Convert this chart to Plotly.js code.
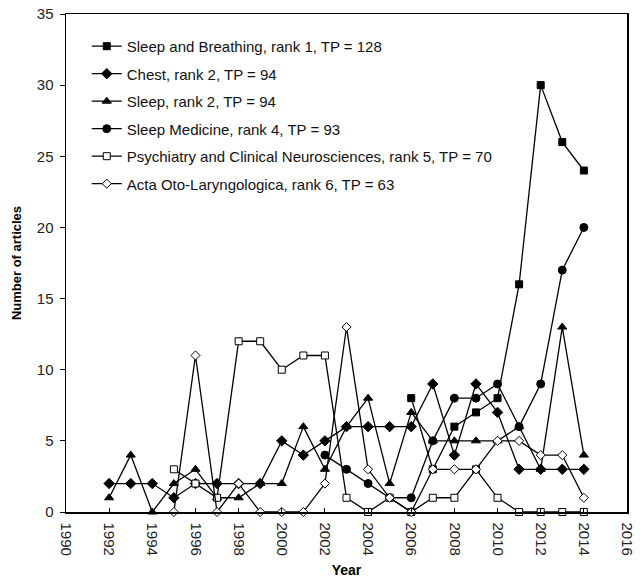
<!DOCTYPE html>
<html>
<head>
<meta charset="utf-8">
<script src="https://cdn.plot.ly/plotly-3.0.1.min.js"></script>
<style>html,body{margin:0;padding:0;background:#fff;}#chart{width:640px;height:580px;}</style>
</head>
<body>
<div id="chart"></div>
<script>
const years = [1992,1993,1994,1995,1996,1997,1998,1999,2000,2001,2002,2003,2004,2005,2006,2007,2008,2009,2010,2011,2012,2013,2014];
const sleepBreathing = [null,null,null,null,null,null,null,null,null,null,null,null,null,null,8,3,6,7,8,16,30,26,24];
const chest = [2,2,2,1,2,2,2,2,5,4,5,6,6,6,6,9,4,9,7,3,3,3,3];
const sleep = [1,4,0,2,3,1,1,2,2,6,3,6,8,2,7,5,5,5,5,6,3,13,4];
const sleepMedicine = [null,null,null,null,null,null,null,null,null,null,4,3,2,1,1,5,8,8,9,6,9,17,20];
const psychiatry = [null,null,null,3,2,1,12,12,10,11,11,1,0,1,0,1,1,3,1,0,0,0,0];
const actaOto = [null,null,null,0,11,0,2,0,0,0,2,13,3,1,0,3,3,3,5,5,4,4,1];
const seriesNames = [
  "Sleep and Breathing, rank 1, TP = 128",
  "Chest, rank 2, TP = 94",
  "Sleep, rank 2, TP = 94",
  "Sleep Medicine, rank 4, TP = 93",
  "Psychiatry and Clinical Neurosciences, rank 5, TP = 70",
  "Acta Oto-Laryngologica, rank 6, TP = 63"
];
const xTicks = [1990,1992,1994,1996,1998,2000,2002,2004,2006,2008,2010,2012,2014,2016];
const yTicks = [0,5,10,15,20,25,30,35];

const data = [sleepBreathing, chest, sleep, sleepMedicine, psychiatry, actaOto];
const symbols = ['square','diamond','triangle-up','circle','square','diamond'];
const sizes = [7,8,8,8,7,7];
const fills = ['#000','#000','#000','#000','#fff','#fff'];

const traces = data.map((vals, i) => ({
  x: years, y: vals, name: seriesNames[i], type: 'scatter', mode: 'lines+markers',
  connectgaps: false, cliponaxis: false, legendgroup: 'g' + i,
  line: {color: '#000', width: 1.3},
  marker: {symbol: symbols[i], size: sizes[i], color: fills[i], line: {color: '#000', width: 1}}
}));

const layout = {
  width: 640, height: 580,
  margin: {l: 66, r: 13, t: 14, b: 68},
  paper_bgcolor: '#fff', plot_bgcolor: '#fff',
  font: {family: 'Liberation Sans, Arial, sans-serif', size: 15, color: '#000'},
  showlegend: true,
  legend: {x: 0.037, y: 0.968, xanchor: 'left', yanchor: 'top', bgcolor: 'rgba(0,0,0,0)',
           font: {size: 15, color: '#111'}, tracegroupgap: 5, traceorder: 'grouped'},
  xaxis: {range: [1990, 2016], tickvals: xTicks, ticktext: xTicks.map(String), tickangle: 90,
          ticks: 'inside', ticklen: 4, tickcolor: '#000', showline: true, linecolor: '#000', linewidth: 1.5,
          mirror: true, showgrid: false, zeroline: false, ticklabelstandoff: 6,
          tickfont: {size: 15, color: '#222'},
          title: {text: '<b>Year</b>', font: {size: 14}, standoff: 10}},
  yaxis: {range: [0, 35], tickvals: yTicks, ticks: 'outside', ticklen: 5, tickcolor: '#000',
          showline: true, linecolor: '#000', linewidth: 1.5, mirror: true, showgrid: false, zeroline: false,
          ticklabelstandoff: 3,
          tickfont: {size: 15, color: '#222'},
          title: {text: '<b>Number of articles</b>', font: {size: 13}, standoff: 12}}
};

Plotly.newPlot('chart', traces, layout, {displayModeBar: false, staticPlot: true});
</script>
</body>
</html>
